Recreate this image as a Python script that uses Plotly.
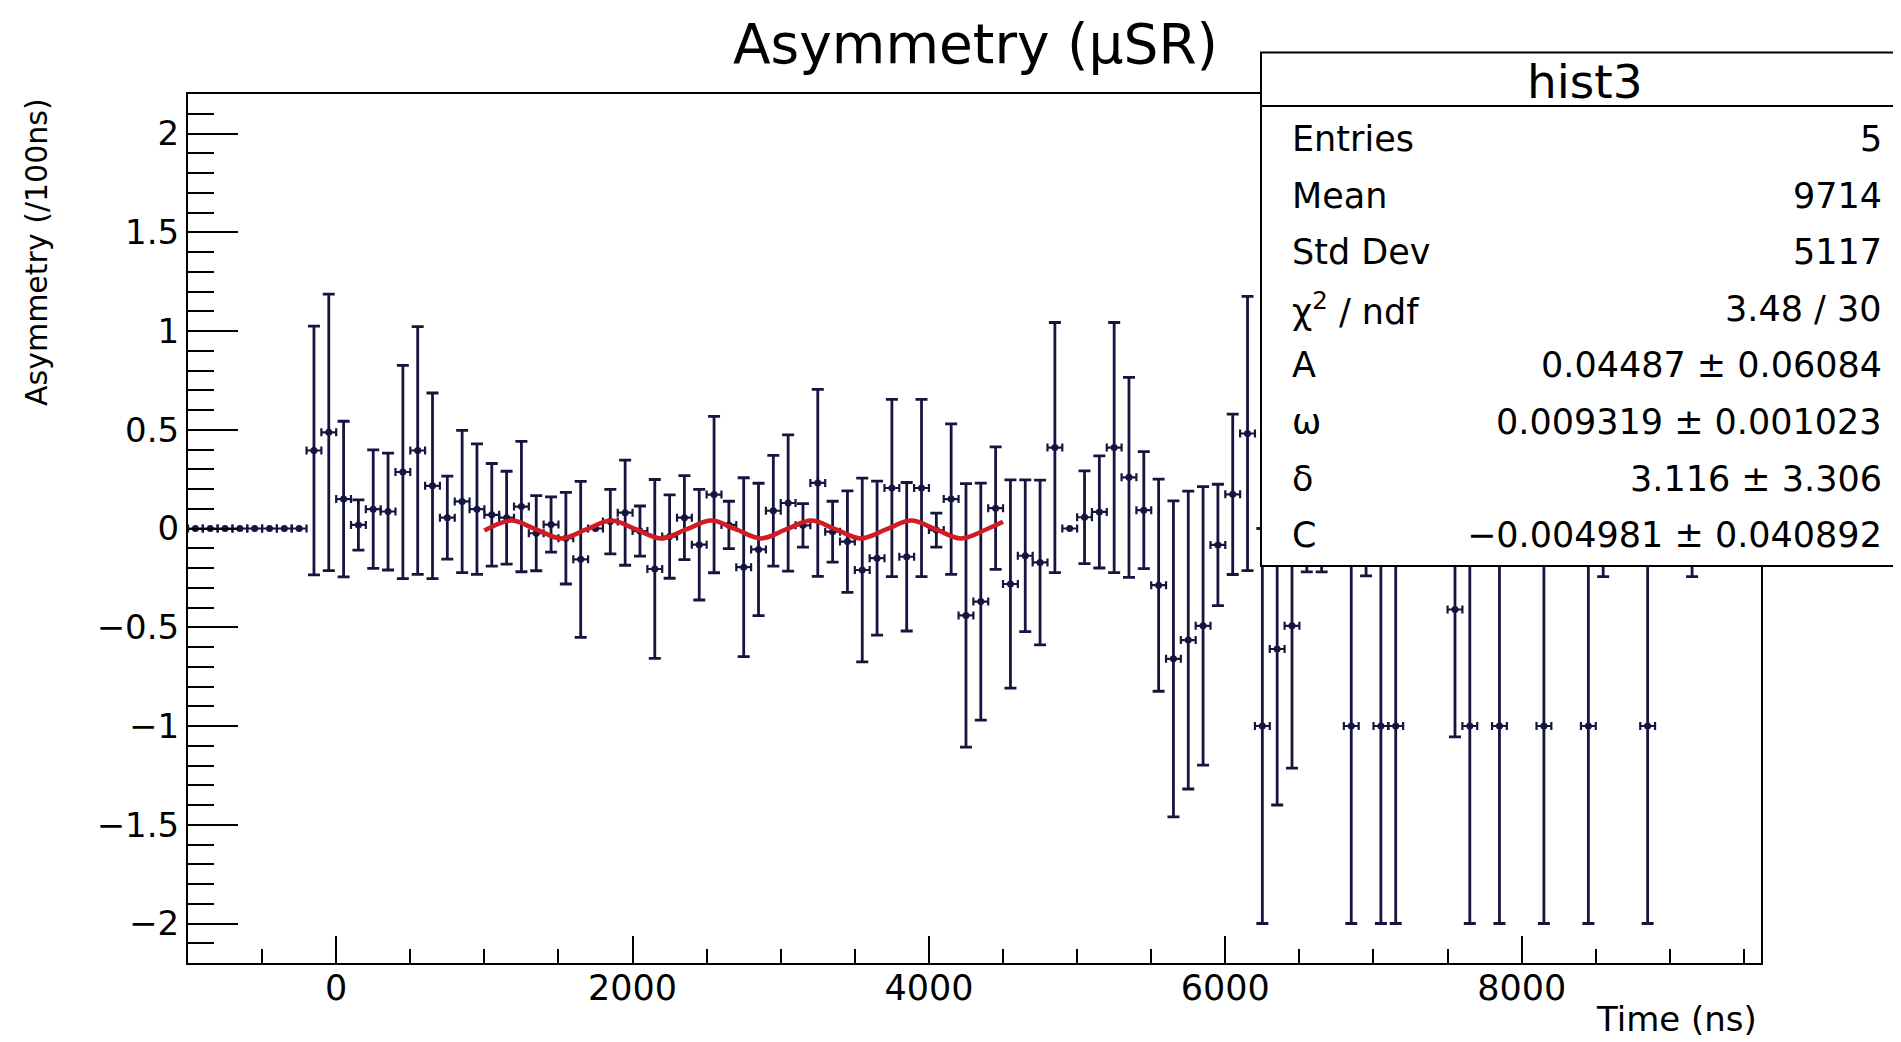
import plotly.graph_objects as go

# ---------------- data ----------------
bin_half_width = 50  # ns, bins of 100 ns

time_ns = [-150, -50, 50, 150, 250, 350, 450, 550, 650, 750, 850, 950, 1050, 1150,
           1250, 1350, 1450, 1550, 1650, 1850, 1950, 2050, 2150, 2250, 2350, 2450,
           2550, 2650, 2750, 2850, 2950, 3050, 3150, 3250, 3350, 3450, 3550, 3650,
           3750, 3850, 3950, 4050, 4150, 4250, 4350, 4450, 4550, 4650, 4750, 4850,
           5050, 5150, 5250, 5350, 5450, 5550, 5650, 5750, 5850, 5950, 6050, 6150,
           6250, 6350, 6450, 6550, 6650, 6850, 6950, 7050, 7150, 7550, 7650, 7850,
           8150, 8450, 8550, 8850, 9150]
asym = [0.395, 0.487, 0.149, 0.018, 0.098, 0.086, 0.286, 0.395, 0.216, 0.055, 0.137, 0.098, 0.069, 0.055,
        0.111, -0.024, 0.020, -0.049, -0.156, 0.035, 0.080, -0.013, -0.205, -0.041, 0.055, -0.082,
        0.172, 0.018, -0.196, -0.106, 0.090, 0.129, 0.016, 0.231, -0.016, -0.066, -0.210, -0.150,
        0.205, -0.143, 0.205, -0.008, 0.149, -0.440, -0.370, 0.103, -0.281, -0.138, -0.172, 0.410,
        0.057, 0.084, 0.410, 0.259, 0.093, -0.287, -0.660, -0.565, -0.493, -0.083, 0.173, 0.481,
        -1.0, -0.610, -0.493, 0.150, 0.250, -1.0, 0.100, -1.0, -1.0, -0.410, -1.0, -1.0,
        -1.0, -1.0, 0.200, -1.0, 0.300]
asym_err = [0.630, 0.700, 0.394, 0.127, 0.300, 0.296, 0.540, 0.627, 0.470, 0.210, 0.360, 0.330, 0.260, 0.235,
            0.330, 0.190, 0.140, 0.232, 0.395, 0.163, 0.266, 0.127, 0.453, 0.211, 0.213, 0.280,
            0.396, 0.120, 0.453, 0.335, 0.280, 0.345, 0.110, 0.473, 0.154, 0.257, 0.465, 0.390,
            0.449, 0.376, 0.449, 0.086, 0.381, 0.667, 0.600, 0.310, 0.527, 0.384, 0.417, 0.633,
            0.235, 0.284, 0.633, 0.506, 0.296, 0.537, 0.800, 0.754, 0.705, 0.307, 0.406, 0.694,
            1.0, 0.790, 0.720, 0.370, 0.470, 1.0, 0.340, 1.0, 1.0, 0.645, 1.0, 1.0,
            1.0, 1.0, 0.444, 1.0, 0.544]

# empty bins (drawn at zero without vertical error)
empty_time_ns = [-950, -850, -750, -650, -550, -450, -350, -250, 1750, 4950]
empty_asym = [0, 0, 0, 0, 0, 0, 0, 0, 0, 0]

# fitted curve, sampled at its extrema / crossings as seen in the picture
fit_t = [1000, 1182, 1350, 1519, 1688, 1856, 2025, 2193, 2362, 2531, 2699, 2868,
         3036, 3205, 3373, 3542, 3711, 3880, 4048, 4217, 4385, 4500]
fit_y = [-0.010, 0.040, -0.005, -0.050, -0.005, 0.040, -0.005, -0.050, -0.005, 0.040, -0.005, -0.050,
         -0.005, 0.040, -0.005, -0.050, -0.005, 0.040, -0.005, -0.050, -0.005, 0.034]

stats_labels = ["Entries", "Mean", "Std Dev", "χ<sup>2</sup> / ndf", "A", "ω", "δ", "C"]
stats_values = ["5", "9714", "5117", "3.48 / 30", "0.04487 ± 0.06084",
                "0.009319 ± 0.001023", "3.116 ± 3.306", "−0.004981 ± 0.040892"]

# ---------------- layout geometry (page pixels) ----------------
PAGE_OFF = 8                      # default body margin of the html page
FW, FH = 1901 - PAGE_OFF, 1042 - PAGE_OFF
L, R, T, B = 188, 1761, 94, 963   # plot frame in page pixels
W, H = R - L, B - T


def px(x):
    return (x - L) / W


def py(y):
    return (B - y) / H


FONT = "DejaVu Sans"
NAVY = "#15153f"

fig = go.Figure()

fig.add_trace(go.Scatter(
    x=time_ns, y=asym, mode="markers",
    marker=dict(color=NAVY, size=7, symbol="circle"),
    error_y=dict(type="data", array=asym_err, color=NAVY, thickness=2.8, width=6),
    error_x=dict(type="constant", value=bin_half_width, color=NAVY, thickness=2.2, width=4),
    showlegend=False,
))

fig.add_trace(go.Scatter(
    x=empty_time_ns, y=empty_asym, mode="markers",
    marker=dict(color=NAVY, size=7, symbol="circle"),
    error_x=dict(type="constant", value=bin_half_width, color=NAVY, thickness=2.2, width=4),
    showlegend=False,
))

fig.add_trace(go.Scatter(
    x=fit_t, y=fit_y, mode="lines",
    line=dict(color="#d21c24", width=4.5, shape="spline", smoothing=1.0),
    showlegend=False,
))

fig.update_layout(
    width=FW, height=FH, autosize=False,
    margin=dict(l=L - PAGE_OFF, r=FW - (R - PAGE_OFF), t=T - PAGE_OFF, b=FH - (B - PAGE_OFF), pad=0),
    paper_bgcolor="white", plot_bgcolor="white",
    font=dict(family=FONT, color="black", size=34),
    showlegend=False,
)

fig.update_xaxes(
    range=[-1000, 9615], showgrid=False, zeroline=False,
    showline=True, linecolor="black", linewidth=2, mirror=True,
    ticks="inside", tick0=0, dtick=2000, ticklen=27, tickwidth=2, tickcolor="black",
    minor=dict(ticks="inside", dtick=500, tick0=0, ticklen=14, tickwidth=2, tickcolor="black"),
    tickfont=dict(family=FONT, size=35, color="black"),
    ticklabelstandoff=-7,
)
fig.update_yaxes(
    range=[-2.2, 2.2], showgrid=False, zeroline=False,
    showline=True, linecolor="black", linewidth=2, mirror=True,
    ticks="inside", tick0=0, dtick=0.5, ticklen=50, tickwidth=2, tickcolor="black",
    minor=dict(ticks="inside", dtick=0.1, tick0=0, ticklen=26, tickwidth=2, tickcolor="black"),
    tickfont=dict(family=FONT, size=34, color="black"),
)

shapes = [
    dict(type="rect", xref="paper", yref="paper", layer="above",
         x0=px(1261), x1=px(1906), y0=py(566), y1=py(52.5),
         fillcolor="white", line=dict(color="black", width=2)),
    dict(type="line", xref="paper", yref="paper", layer="above",
         x0=px(1261), x1=px(1906), y0=py(106), y1=py(106),
         line=dict(color="black", width=2)),
]
fig.update_layout(shapes=shapes)

ann = []
ann.append(dict(text="Asymmetry (μSR)", xref="paper", yref="paper",
                x=px(976), y=py(44), xanchor="center", yanchor="middle",
                showarrow=False, font=dict(family=FONT, size=55, color="black")))
ann.append(dict(text="Asymmetry (/100ns)", xref="paper", yref="paper",
                x=px(36), y=py(96), xanchor="center", yanchor="top", textangle=-90,
                showarrow=False, font=dict(family=FONT, size=30, color="black")))
ann.append(dict(text="Time (ns)", xref="paper", yref="paper",
                x=px(1759), y=py(1019), xanchor="right", yanchor="middle",
                showarrow=False, font=dict(family=FONT, size=34, color="black")))
ann.append(dict(text="hist3", xref="paper", yref="paper",
                x=px(1585), y=py(82), xanchor="center", yanchor="middle",
                showarrow=False, font=dict(family=FONT, size=47, color="black")))
for i, (lab, val) in enumerate(zip(stats_labels, stats_values)):
    yc = 139 + 56.6 * i
    ann.append(dict(text=lab, xref="paper", yref="paper",
                    x=px(1290), y=py(yc), xanchor="left", yanchor="middle",
                    showarrow=False, font=dict(family=FONT, size=35, color="black")))
    ann.append(dict(text=val, xref="paper", yref="paper",
                    x=px(1884), y=py(yc), xanchor="right", yanchor="middle",
                    showarrow=False, font=dict(family=FONT, size=35, color="black")))
fig.update_layout(annotations=ann)

fig.write_html("out.html")
